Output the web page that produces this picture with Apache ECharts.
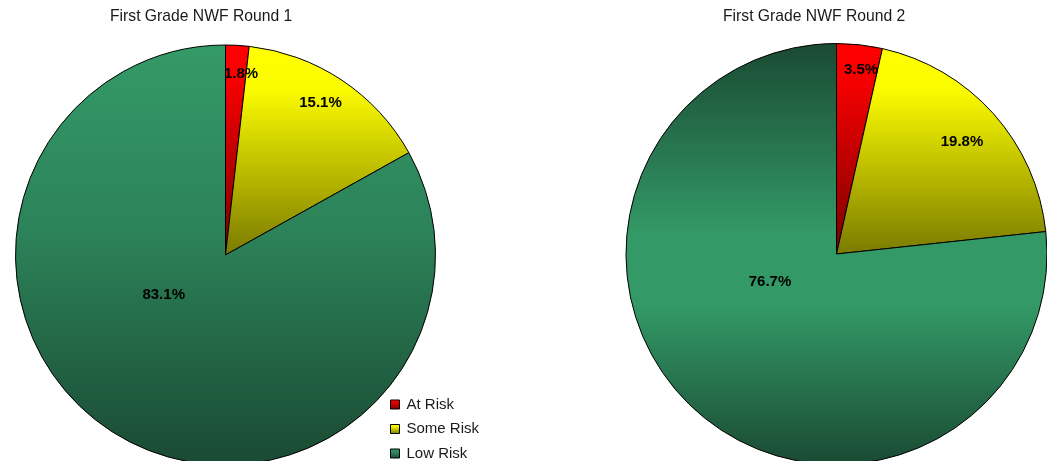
<!DOCTYPE html>
<html><head><meta charset="utf-8">
<script src="https://cdn.jsdelivr.net/npm/echarts@6/dist/echarts.min.js"></script>
<style>html,body{margin:0;padding:0;background:#fff}#c{width:1047px;height:461px}</style>
</head><body><div id="c"></div>
<script>
// ---- data ----
const categories = ['At Risk', 'Some Risk', 'Low Risk'];
const round1Values = [1.8, 15.1, 83.1];
const round2Values = [3.5, 19.8, 76.7];
const chartTitles = ['First Grade NWF Round 1', 'First Grade NWF Round 2'];

// ---- styling / layout (not data) ----
const FONT = 'Arial, "Liberation Sans", sans-serif';
function vgrad(stops) {
  return new echarts.graphic.LinearGradient(0, 0, 0, 1,
    stops.map(s => ({ offset: s[0], color: s[1] })));
}
const redGrad = () => vgrad([[0, '#ff0000'], [0.15, '#fa0000'], [1, '#7a0000']]);
const yellowGrad = () => vgrad([[0, '#ffff00'], [0.2, '#fcfc00'], [1, '#7a7a00']]);
const greenLeft = () => vgrad([[0, '#349a67'], [0.45, '#2c8259'], [1, '#1a4a33']]);
const greenRight = () => vgrad([[0, '#1a4a33'], [0.45, '#339966'], [0.62, '#339966'], [1, '#1a4a33']]);

const pies = [
  { values: round1Values, center: [225.5, 255], radius: 210,
    fills: [redGrad, yellowGrad, greenLeft],
    labelAt: [[241, 74], [320.5, 103], [163.7, 295]] },
  { values: round2Values, center: [836.5, 254], radius: 210.5,
    fills: [redGrad, yellowGrad, greenRight],
    labelAt: [[861, 70], [962, 141.5], [770, 281.7]] }
];

const chart = echarts.init(document.getElementById('c'), null, { renderer: 'canvas' });
chart.setOption({
  animation: false,
  backgroundColor: '#fff',
  title: [
    { text: chartTitles[0], left: 110, top: 9, padding: 0,
      textStyle: { fontFamily: FONT, fontSize: 15.7, fontWeight: 'normal', color: '#1a1a1a' } },
    { text: chartTitles[1], left: 723, top: 9, padding: 0,
      textStyle: { fontFamily: FONT, fontSize: 15.7, fontWeight: 'normal', color: '#1a1a1a' } }
  ],
  legend: {
    data: categories,
    orient: 'vertical',
    left: 390, top: 397, height: 90, padding: 0,
    itemWidth: 9, itemHeight: 9, itemGap: 9.5,
    icon: 'rect',
    selectedMode: false,
    itemStyle: { borderColor: '#000', borderWidth: 1 },
    textStyle: { fontFamily: FONT, fontSize: 15, color: '#1a1a1a', padding: [0, 0, 0, 2] }
  },
  series: pies.map((p, si) => ({
    type: 'pie',
    center: p.center,
    radius: p.radius,
    startAngle: 90,
    clockwise: true,
    avoidLabelOverlap: false,
    silent: true,
    emphasis: { disabled: true },
    itemStyle: { borderColor: '#000', borderWidth: 1 },
    label: {
      show: true, position: 'inside',
      fontFamily: FONT, fontSize: 15, fontWeight: 'bold', color: '#000',
      formatter: (prm) => prm.value.toFixed(1) + '%'
    },
    labelLine: { show: false },
    labelLayout: (prm) => ({ x: p.labelAt[prm.dataIndex][0], y: p.labelAt[prm.dataIndex][1] }),
    data: categories.map((name, i) => ({
      name, value: p.values[i],
      itemStyle: { color: p.fills[i]() }
    }))
  }))
});
</script></body></html>
